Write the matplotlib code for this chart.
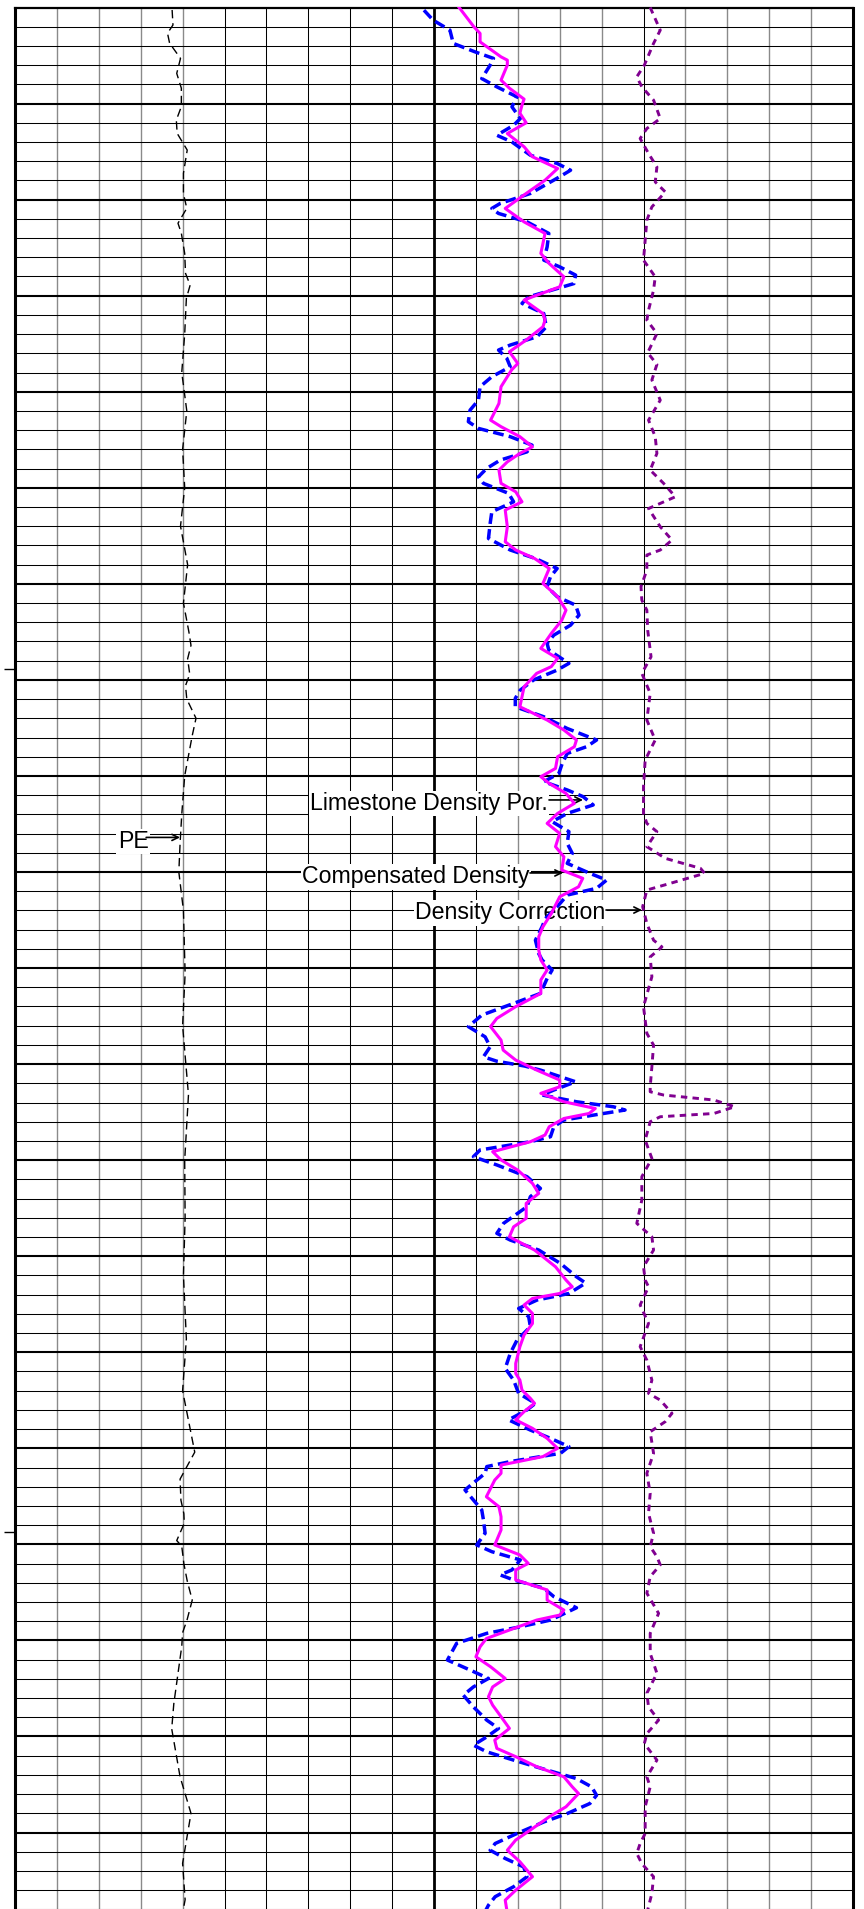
import matplotlib
matplotlib.use("Agg")
import matplotlib.pyplot as plt

plt.rcParams['font.family'] = ['Liberation Sans', 'DejaVu Sans']

# Depth is measured in chart divisions below the top of the interval.
BOTTOM = 98.98
DEPTH_MARKS = [34.45, 79.34]

# Photoelectric factor (b/e)
pe_depth = [0.13, 0.91, 1.34, 1.86, 2.65, 3.43, 4.2, 5.16, 5.86, 6.55, 7.42, 8.63, 9.69,
            10.45, 11.23, 11.75, 12.8, 13.84, 14.45, 15.14, 17.0, 19.0, 21.0, 23.0, 25.0,
            27.0, 29.0, 31.0, 32.5, 33.2, 33.9, 34.7, 35.3, 36.0, 37.0, 37.9, 40.0, 42.0,
            43.5, 45.0, 47.0, 50.3, 53.0, 56.6, 60.0, 63.0, 66.0, 69.3, 72.0, 75.2, 76.6,
            77.7, 78.4, 78.9, 79.4, 79.8, 80.1, 81.0, 81.9, 82.9, 83.9, 84.6, 85.3, 88.3,
            89.6, 92.1, 94.0, 96.6, 98.5, 99.2]
pe = [3.75, 3.77, 3.64, 3.69, 3.95, 3.86, 3.97, 3.97, 3.85, 3.87, 4.11, 4.02, 4.02,
      4.10, 3.89, 3.97, 4.05, 4.07, 4.18, 4.09, 4.05, 3.98, 4.10, 4.00, 4.05,
      3.95, 4.12, 4.02, 4.15, 4.20, 4.12, 4.17, 4.07, 4.10, 4.32, 4.23, 4.05, 3.98,
      3.94, 3.91, 4.02, 4.06, 4.00, 4.14, 4.05, 4.06, 4.02, 4.09, 4.00, 4.29, 3.94,
      3.96, 4.03, 4.04, 3.94, 3.86, 3.98, 4.03, 4.11, 4.23, 4.11, 4.00, 3.98, 3.79,
      3.74, 3.94, 4.20, 4.00, 4.06, 4.00]

# Limestone density porosity (v/v)
phi_depth = [0.0, 1.0, 1.35, 1.79, 2.57, 2.74, 3.0, 3.78, 4.2, 4.77, 5.08, 5.5, 6.0, 6.56,
             7.25, 7.77, 8.38, 8.99, 9.68, 10.46, 11.16, 11.76, 12.8, 13.33, 14.02, 14.54,
             15.06, 15.23, 15.93, 16.27, 16.62, 17.31, 17.92, 18.53, 18.87, 19.74, 20.61,
             21.48, 21.82, 22.34, 22.87, 23.21, 23.65, 24.08, 24.77, 25.21, 25.73, 26.16,
             27.03, 27.81, 28.24, 28.68, 29.2, 29.98, 30.67, 31.37, 31.89, 32.58, 33.36,
             33.88, 34.31, 34.66, 35.36, 36.4, 37.09, 37.61, 38.13, 38.48, 39.0, 39.61,
             40.04, 40.39, 40.91, 41.43, 41.95, 42.47, 42.99, 43.68, 44.21, 44.9, 45.33,
             45.77, 46.29, 47.16, 47.85, 48.37, 49.07, 49.58, 50.1, 50.62, 51.32, 52.01,
             52.62, 53.05, 53.75, 54.27, 54.79, 55.31, 55.83, 56.18, 56.52, 56.96, 57.31,
             57.57, 57.83, 58.26, 58.69, 59.04, 59.56, 59.99, 60.52, 61.21, 61.73, 62.25,
             63.03, 63.47, 63.99, 64.68, 65.55, 66.24, 66.59, 66.94, 67.2, 67.54, 67.98,
             68.5, 69.1, 69.71, 70.58, 71.1, 71.45, 71.97, 72.4, 72.66, 73.09, 73.52,
             73.96, 74.48, 75.0, 75.43, 75.87, 76.3, 76.65, 77.08, 77.52, 78.04, 78.56,
             79.25, 80.03, 80.55, 80.99, 81.33, 81.85, 82.37, 82.9, 83.42, 83.68, 83.94,
             84.46, 84.9, 85.33, 85.85, 86.37, 86.98, 87.42, 87.93, 88.37, 88.97, 89.58,
             90.19, 90.62, 91.05, 91.57, 92.1, 92.62, 92.97, 93.66, 94.18, 94.87, 95.39,
             95.92, 96.52, 97.3, 98.0, 98.52, 99.2]
phi = [0.088, 0.081, 0.078, 0.078, 0.068, 0.065, 0.065, 0.068, 0.064, 0.057, 0.058, 0.059,
       0.056, 0.065, 0.057, 0.053, 0.041, 0.047, 0.056, 0.066, 0.057, 0.047, 0.049, 0.045,
       0.038, 0.040, 0.053, 0.057, 0.048, 0.047, 0.048, 0.056, 0.064, 0.060, 0.063, 0.068,
       0.069, 0.073, 0.068, 0.059, 0.053, 0.059, 0.065, 0.069, 0.068, 0.061, 0.058, 0.066,
       0.065, 0.066, 0.061, 0.052, 0.045, 0.048, 0.041, 0.037, 0.039, 0.044, 0.049,
       0.041, 0.044, 0.051, 0.057, 0.059, 0.046, 0.038, 0.032, 0.033, 0.041, 0.042,
       0.049, 0.045, 0.037, 0.033, 0.041, 0.046, 0.040, 0.042, 0.038, 0.039, 0.029,
       0.031, 0.040, 0.044, 0.048, 0.050, 0.050, 0.049, 0.046, 0.049, 0.049, 0.061,
       0.070, 0.073, 0.068, 0.067, 0.061, 0.051, 0.040, 0.040, 0.049, 0.038, 0.023,
       0.026, 0.038, 0.045, 0.047, 0.054, 0.072, 0.068, 0.060, 0.053, 0.050, 0.056,
       0.056, 0.062, 0.064, 0.052, 0.042, 0.037, 0.034, 0.040, 0.053, 0.057, 0.053,
       0.053, 0.057, 0.059, 0.061, 0.061, 0.059, 0.058, 0.054, 0.052, 0.057, 0.061,
       0.053, 0.046, 0.041, 0.048, 0.068, 0.068, 0.071, 0.073, 0.075, 0.069, 0.068,
       0.068, 0.071, 0.059, 0.055, 0.061, 0.061, 0.046, 0.046, 0.038, 0.040, 0.051,
       0.064, 0.075, 0.078, 0.080, 0.073, 0.066, 0.072, 0.074, 0.072, 0.068, 0.064,
       0.071, 0.070, 0.061, 0.051, 0.038, 0.034, 0.031, 0.037, 0.045, 0.054, 0.061,
       0.065, 0.059, 0.053, 0.061, 0.066, 0.065]

# Compensated bulk density (g/cc)
rhob_depth = [0.14, 0.66, 1.18, 1.87, 2.31, 2.65, 3.0, 3.7, 4.13, 4.65, 5.17, 5.78, 6.13,
              6.65, 7.0, 7.69, 8.12, 8.47, 8.81, 9.68, 10.2, 10.46, 10.72, 11.16, 11.76,
              12.46, 13.15, 13.5, 13.93, 14.37, 14.63, 15.06, 15.4, 15.93, 16.62, 17.14,
              17.57, 17.83, 18.27, 18.7, 19.22, 19.74, 20.44, 20.96, 21.56, 21.91, 22.34,
              22.78, 23.13, 23.56, 23.99, 24.43, 24.77, 25.29, 25.73, 26.25, 26.86, 27.64,
              28.24, 28.68, 29.2, 29.63, 30.15, 30.67, 31.11, 31.63, 32.15, 32.67, 33.1,
              33.45, 34.14, 34.49, 35.0, 35.53, 35.96, 36.4, 36.92, 37.53, 38.13, 38.48,
              38.83, 39.35, 39.87, 40.3, 40.73, 41.08, 41.51, 41.95, 42.38, 42.9, 43.51,
              44.03, 44.55, 45.07, 45.42, 45.85, 46.2, 46.81, 47.42, 47.85, 48.55, 49.25,
              49.58, 50.1, 50.54, 51.32, 51.84, 52.45, 53.05, 53.58, 54.1, 54.62, 54.85,
              55.1, 55.31, 55.92, 56.35, 56.61, 56.96, 57.22, 57.39, 57.6, 57.91, 58.26,
              58.78, 59.04, 59.47, 59.82, 60.25, 60.86, 61.47, 61.9, 62.42, 63.29, 63.81,
              64.16, 64.68, 65.38, 66.07, 66.4, 66.94, 67.28, 67.72, 68.15, 68.67, 69.37,
              70.06, 70.84, 71.45, 72.14, 72.66, 73.0, 73.52, 74.05, 74.48, 74.91, 75.26,
              75.69, 75.95, 76.3, 76.73, 77.17, 77.69, 78.21, 78.73, 79.42, 80.03, 80.38,
              80.81, 81.33, 81.59, 81.85, 82.28, 82.72, 83.3, 83.94, 84.29, 84.63, 85.15,
              86.02, 86.54, 86.98, 87.42, 87.85, 88.46, 89.15, 89.58, 90.02, 90.45, 90.8,
              91.23, 91.75, 92.19, 92.62, 93.06, 93.49, 94.01, 94.45, 95.05, 95.57, 95.92,
              96.35, 96.79, 97.3, 97.82, 98.34, 98.78, 99.2]
rhob = [2.438, 2.449, 2.469, 2.473, 2.499, 2.521, 2.517, 2.507, 2.525, 2.549, 2.543, 2.553,
        2.545, 2.525, 2.543, 2.565, 2.597, 2.613, 2.600, 2.565, 2.529, 2.519, 2.527, 2.561,
        2.587, 2.585, 2.581, 2.600, 2.619, 2.617, 2.597, 2.563, 2.555, 2.581, 2.584, 2.573,
        2.541, 2.527, 2.537, 2.541, 2.519, 2.505, 2.503, 2.493, 2.491, 2.503, 2.541,
        2.567, 2.561, 2.529, 2.513, 2.503, 2.509, 2.539, 2.545, 2.519, 2.517, 2.515,
        2.541, 2.571, 2.597, 2.589, 2.585, 2.597, 2.619, 2.623, 2.613, 2.593, 2.585,
        2.587, 2.611, 2.597, 2.569, 2.553, 2.547, 2.547, 2.581, 2.609, 2.644, 2.632,
        2.609, 2.603, 2.599, 2.581, 2.609, 2.628, 2.640, 2.609, 2.591, 2.611, 2.609,
        2.615, 2.609, 2.636, 2.656, 2.644, 2.609, 2.597, 2.583, 2.579, 2.571, 2.575,
        2.579, 2.591, 2.585, 2.577, 2.545, 2.507, 2.491, 2.511, 2.517, 2.509, 2.525,
        2.558, 2.577, 2.619, 2.593, 2.579, 2.620, 2.664, 2.678, 2.648, 2.605, 2.593,
        2.589, 2.565, 2.505, 2.497, 2.525, 2.561, 2.577, 2.565, 2.561, 2.533, 2.525,
        2.541, 2.575, 2.601, 2.620, 2.631, 2.611, 2.573, 2.551, 2.563, 2.565, 2.549,
        2.541, 2.535, 2.545, 2.551, 2.571, 2.561, 2.539, 2.565, 2.589, 2.611, 2.601,
        2.541, 2.513, 2.511, 2.499, 2.487, 2.497, 2.507, 2.509, 2.511, 2.501, 2.519,
        2.553, 2.543, 2.529, 2.545, 2.581, 2.593, 2.620, 2.589, 2.553, 2.513, 2.477,
        2.466, 2.493, 2.515, 2.497, 2.485, 2.497, 2.513, 2.527, 2.513, 2.497, 2.513,
        2.545, 2.585, 2.620, 2.638, 2.644, 2.636, 2.609, 2.581, 2.549, 2.523, 2.517,
        2.535, 2.557, 2.561, 2.545, 2.523, 2.515, 2.510]

# Density correction (g/cc)
drho_depth = [0.0, 1.18, 1.87, 3.0, 3.61, 4.13, 4.82, 5.78, 6.3, 6.82, 7.6, 8.3, 9.08, 9.6,
              10.38, 11.07, 12.11, 13.15, 14.02, 14.71, 15.76, 16.27, 16.97, 17.97, 18.58,
              19.39, 20.44, 21.48, 22.34, 23.21, 24.08, 24.77, 25.47, 26.08, 27.03, 27.72,
              28.24, 28.5, 29.28, 30.15, 30.85, 31.37, 32.41, 33.8, 34.66, 35.7, 37.09,
              38.13, 39.17, 40.56, 41.95, 42.47, 42.9, 43.68, 44.29, 44.81, 45.07, 45.59,
              45.94, 46.81, 47.68, 48.55, 48.9, 49.42, 50.45, 52.01, 53.4, 54.01, 55.14,
              56.18, 56.44, 56.61, 56.87, 57.22, 57.57, 57.74, 58.0, 58.95, 59.91, 60.86,
              62.08, 63.29, 63.99, 64.68, 65.55, 66.24, 66.59, 67.54, 68.5, 69.71, 70.41,
              71.45, 72.14, 72.49, 73.18, 73.61, 74.14, 75.26, 76.3, 77.34, 78.38, 79.42,
              80.12, 80.64, 81.07, 81.68, 82.54, 83.59, 84.63, 85.67, 86.71, 87.75, 88.46,
              89.15, 89.85, 90.37, 91.23, 92.1, 92.62, 93.66, 95.05, 95.57, 96.09, 96.62,
              97.3, 98.17, 99.2]
drho = [0.008, 0.020, 0.012, 0.001, -0.008, -0.002, 0.012, 0.020, 0.004, -0.004, 0.006,
        0.016, 0.014, 0.026, 0.010, 0.004, 0.002, 0.000, 0.014, 0.012, 0.006, 0.004, 0.016,
        0.005, 0.016, 0.010, 0.020, 0.006, 0.014, 0.016, 0.008, 0.024, 0.038, 0.006,
        0.020, 0.034, 0.020, 0.004, 0.004, -0.003, -0.002, 0.004, 0.005, 0.009, -0.002,
        0.008, 0.004, 0.014, 0.002, 0.000, 0.000, 0.004, 0.016, 0.004, 0.026, 0.068,
        0.073, 0.032, 0.004, -0.001, 0.004, 0.012, 0.022, 0.008, 0.010, 0.000, 0.004,
        0.012, 0.010, 0.008, 0.008, 0.024, 0.084, 0.109, 0.084, 0.020, 0.008, 0.002,
        0.010, -0.002, -0.002, -0.008, 0.010, 0.012, 0.000, 0.002, 0.006, -0.004, 0.006,
        -0.004, 0.004, 0.010, 0.006, 0.020, 0.034, 0.026, 0.008, 0.012, 0.004, 0.008,
        0.006, 0.012, 0.008, 0.016, 0.020, 0.008, 0.004, 0.018, 0.008, 0.008, 0.016,
        0.004, 0.006, 0.018, 0.004, 0.001, 0.016, 0.004, 0.008, 0.002, 0.002, -0.004,
        -0.008, -0.002, 0.012, 0.010, 0.004]

# Curve labels: (text, left edge, baseline, arrow start, arrow tip, arrow level)
labels = [
    ("Limestone Density Por.", 7.04, 41.77, 12.745, 13.556, 41.25),
    ("Compensated Density", 6.85, 45.59, 12.291, 13.079, 45.05),
    ("Density Correction", 9.55, 47.46, 14.105, 14.964, 46.98),
    ("PE", 2.45, 43.75, 3.13, 3.94, 43.2),
]

fig = plt.figure(figsize=(8.64, 19.09), dpi=100)
left, right, top = 15 / 864, 853 / 864, 7.5 / 1909
ax = fig.add_axes([left, 0.0, right - left, 1.0 - top])
ax.set_xlim(0, 20)
ax.set_ylim(BOTTOM, 0)

# chart paper: heavy centre line, darker division lines, lighter fine lines
dark_cols = {5, 6, 7, 8, 9, 11, 15}
for c in range(1, 20):
    if c == 10:
        ax.axvline(c, color='black', lw=2.0, zorder=1)
    elif c in dark_cols:
        ax.axvline(c, color='black', lw=0.75, zorder=1)
    else:
        ax.axvline(c, color='#8a8a8a', lw=1.0, zorder=1)
for r in range(1, 100):
    ax.axhline(r, color='black', lw=1.5 if r % 5 == 0 else 0.75, zorder=1)

ax.set_xticks([])
ax.set_yticks(DEPTH_MARKS)
ax.set_yticklabels([])
ax.tick_params(axis='y', direction='out', length=8.2, width=1.0, color='black')
ax.spines['bottom'].set_visible(False)
ax.spines['top'].set_linewidth(1.6)
ax.spines['left'].set_linewidth(2.2)
ax.spines['right'].set_linewidth(2.2)

for text, x0, yb, xa, xb, ya in labels:
    ax.text(x0, yb, text, fontsize=16.7, ha='left', va='baseline', zorder=3,
            bbox=dict(facecolor='white', edgecolor='none', pad=1.0))
    ax.annotate('', xy=(xb, ya), xytext=(xa, ya), zorder=4,
                arrowprops=dict(arrowstyle='->,head_length=0.45,head_width=0.22',
                                lw=1.2, color='black', shrinkA=0, shrinkB=0))


def curve_axis(lo, hi):
    c = ax.twiny()
    c.set_xlim(lo, hi)
    c.set_ylim(BOTTOM, 0)
    c.set_axis_off()
    return c


ax_pe = curve_axis(0, 20)
ax_pe.plot(pe, pe_depth, color='black', lw=1.0, dashes=(6, 3.5))

ax_dc = curve_axis(-0.75, 0.25)
ax_dc.plot(drho, drho_depth, color='#800090', lw=2.1, dashes=(2.2, 1.8))

ax_rb = curve_axis(1.95, 2.95)
ax_rb.plot(rhob, rhob_depth, color='#0000FF', lw=2.5, dashes=(3.1, 1.5))

ax_ph = curve_axis(0.30, -0.10)
ax_ph.plot(phi, phi_depth, color='#FF00FF', lw=2.2, solid_joinstyle='round')

fig.savefig('out.png', dpi=100)
